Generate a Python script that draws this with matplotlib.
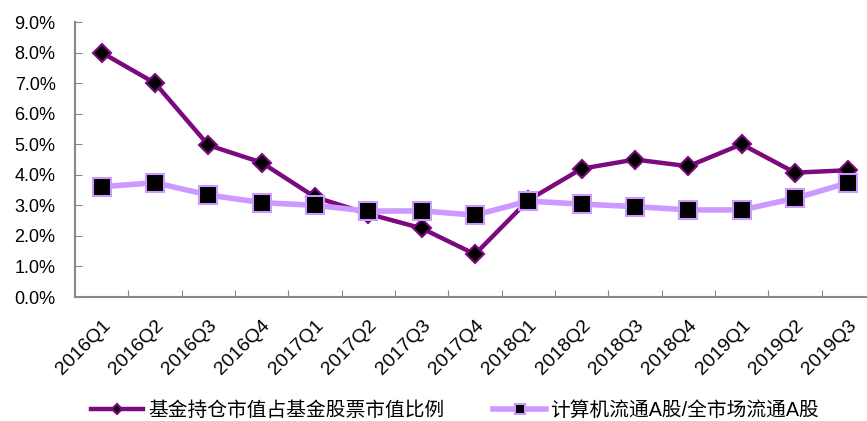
import matplotlib
matplotlib.use("Agg")
import matplotlib.pyplot as plt
from matplotlib.ticker import PercentFormatter

plt.rcParams['font.family'] = ['Liberation Sans', 'Noto Sans CJK SC', 'DejaVu Sans']

quarters = ['2016Q1', '2016Q2', '2016Q3', '2016Q4', '2017Q1', '2017Q2', '2017Q3',
            '2017Q4', '2018Q1', '2018Q2', '2018Q3', '2018Q4', '2019Q1', '2019Q2', '2019Q3']
fund_share = [8.0, 7.0, 4.97, 4.4, 3.27, 2.72, 2.25, 1.4, 3.17, 4.2, 4.5, 4.28, 5.0, 4.07, 4.15]
market_share = [3.61, 3.74, 3.34, 3.09, 3.0, 2.81, 2.82, 2.68, 3.14, 3.04, 2.96, 2.85, 2.85, 3.23, 3.74]

label_fund = '基金持仓市值占基金股票市值比例'
label_market = '计算机流通A股/全市场流通A股'

dark = '#7B0A7E'
light = '#CC99FF'

fig = plt.figure(figsize=(8.67, 4.21), dpi=100)
ax = fig.add_axes([75 / 867, 0.2945, 800 / 867, 0.6532])

x = range(len(quarters))
ax.plot(x, fund_share, color=dark, lw=3.2, marker='D', ms=9.5,
        mfc='black', mec=dark, mew=1.5, label=label_fund, zorder=3)
ax.plot(x, market_share, color=light, lw=4.0, marker='s', ms=12.5,
        mfc='black', mec=light, mew=1.5, label=label_market, zorder=4)

ax.set_xlim(-0.5, len(quarters) - 0.5)
ax.set_ylim(0, 9)
ax.set_yticks(range(0, 10))
ax.yaxis.set_major_formatter(PercentFormatter(decimals=1))
ax.set_xticks([i + 0.5 for i in range(len(quarters))], minor=False)
ax.set_xticklabels([])
ax.set_xticks(list(x), minor=True)
ax.set_xticklabels(quarters, minor=True, rotation=45, ha='right', va='top',
                   rotation_mode='anchor', fontsize=14)
ax.tick_params(axis='x', which='minor', length=0, pad=14)
ax.tick_params(axis='x', which='major', direction='in', length=5, color='#888888')
ax.tick_params(axis='y', direction='in', length=5, color='#888888', labelsize=13, pad=14)

for side in ('top', 'right'):
    ax.spines[side].set_visible(False)
for side in ('left', 'bottom'):
    ax.spines[side].set_color('#888888')
    ax.spines[side].set_linewidth(1.5)

fig.legend(loc='center', bbox_to_anchor=(455 / 867, 1 - 410 / 421), ncol=2, frameon=False,
           fontsize=14.2, handlelength=2.65, columnspacing=2.5, handletextpad=0.25,
           markerscale=0.55)

fig.savefig('out.png', dpi=100)
